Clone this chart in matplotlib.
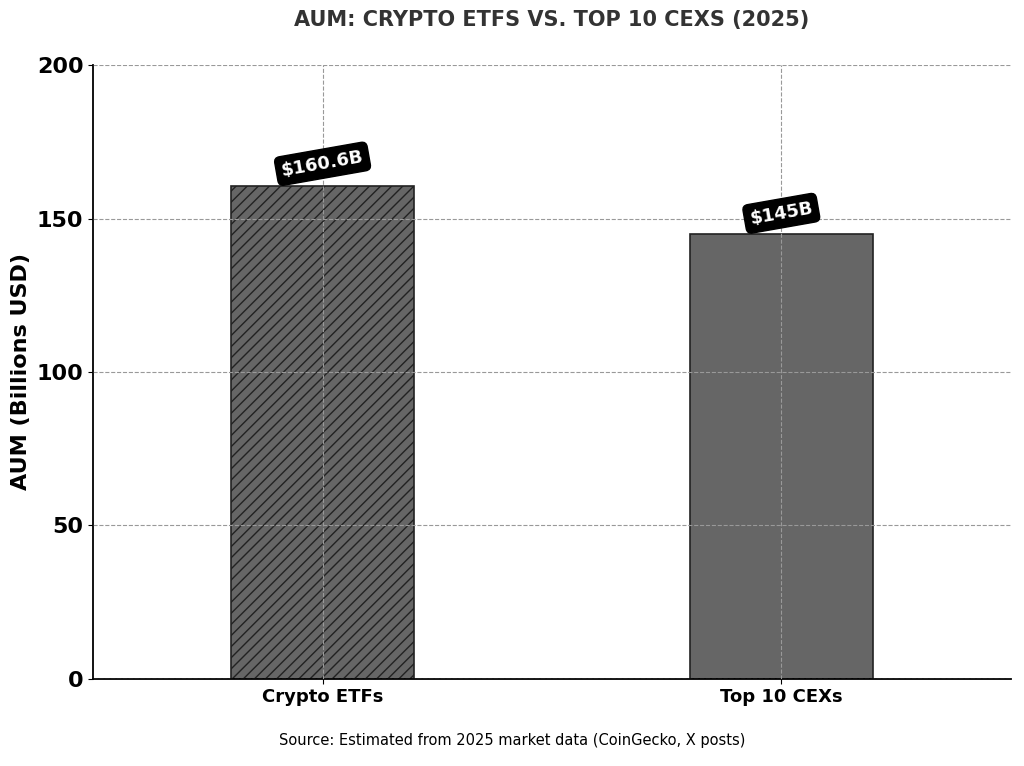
import matplotlib
matplotlib.use('Agg')
import matplotlib.pyplot as plt

categories = ['Crypto ETFs', 'Top 10 CEXs']
aum = [160.6, 145]
labels = ['$160.6B', '$145B']
hatches = ['///', '']

fig = plt.figure(figsize=(10.24, 7.66), dpi=100)
ax = fig.add_axes([0.091, 0.114, 0.896, 0.801])

x = range(len(categories))
bars = ax.bar(x, aum, width=0.4, color='#666666', edgecolor='#222222', linewidth=1.2)
for b, h in zip(bars, hatches):
    b.set_hatch(h)

for xi, v, lab in zip(x, aum, labels):
    ax.text(xi, v + 2, lab, ha='center', va='bottom', rotation=10, color='white',
            fontsize=13, fontweight='bold',
            bbox=dict(boxstyle='round,pad=0.3', fc='black', ec='black'))

ax.set_xlim(-0.5, 1.5)
ax.set_ylim(0, 200)
ax.set_yticks([0, 50, 100, 150, 200])
ax.set_xticks(list(x))
ax.set_xticklabels(categories, fontsize=13, fontweight='bold')
ax.tick_params(axis='y', labelsize=16)
for t in ax.get_yticklabels():
    t.set_fontweight('bold')
ax.set_ylabel('AUM (Billions USD)', fontsize=16, fontweight='bold')
ax.set_title('AUM: CRYPTO ETFS VS. TOP 10 CEXS (2025)', fontsize=15, fontweight='bold',
             color='#333333', pad=28)
ax.grid(True, linestyle='--', color='#999999', linewidth=0.8)
ax.set_axisbelow(False)
for s in ['top', 'right']:
    ax.spines[s].set_visible(False)
ax.spines['left'].set_linewidth(1.3)
ax.spines['bottom'].set_linewidth(1.3)

fig.text(0.5, 0.027, 'Source: Estimated from 2025 market data (CoinGecko, X posts)',
         ha='center', fontsize=10.5)

fig.savefig('out.png', dpi=100)
